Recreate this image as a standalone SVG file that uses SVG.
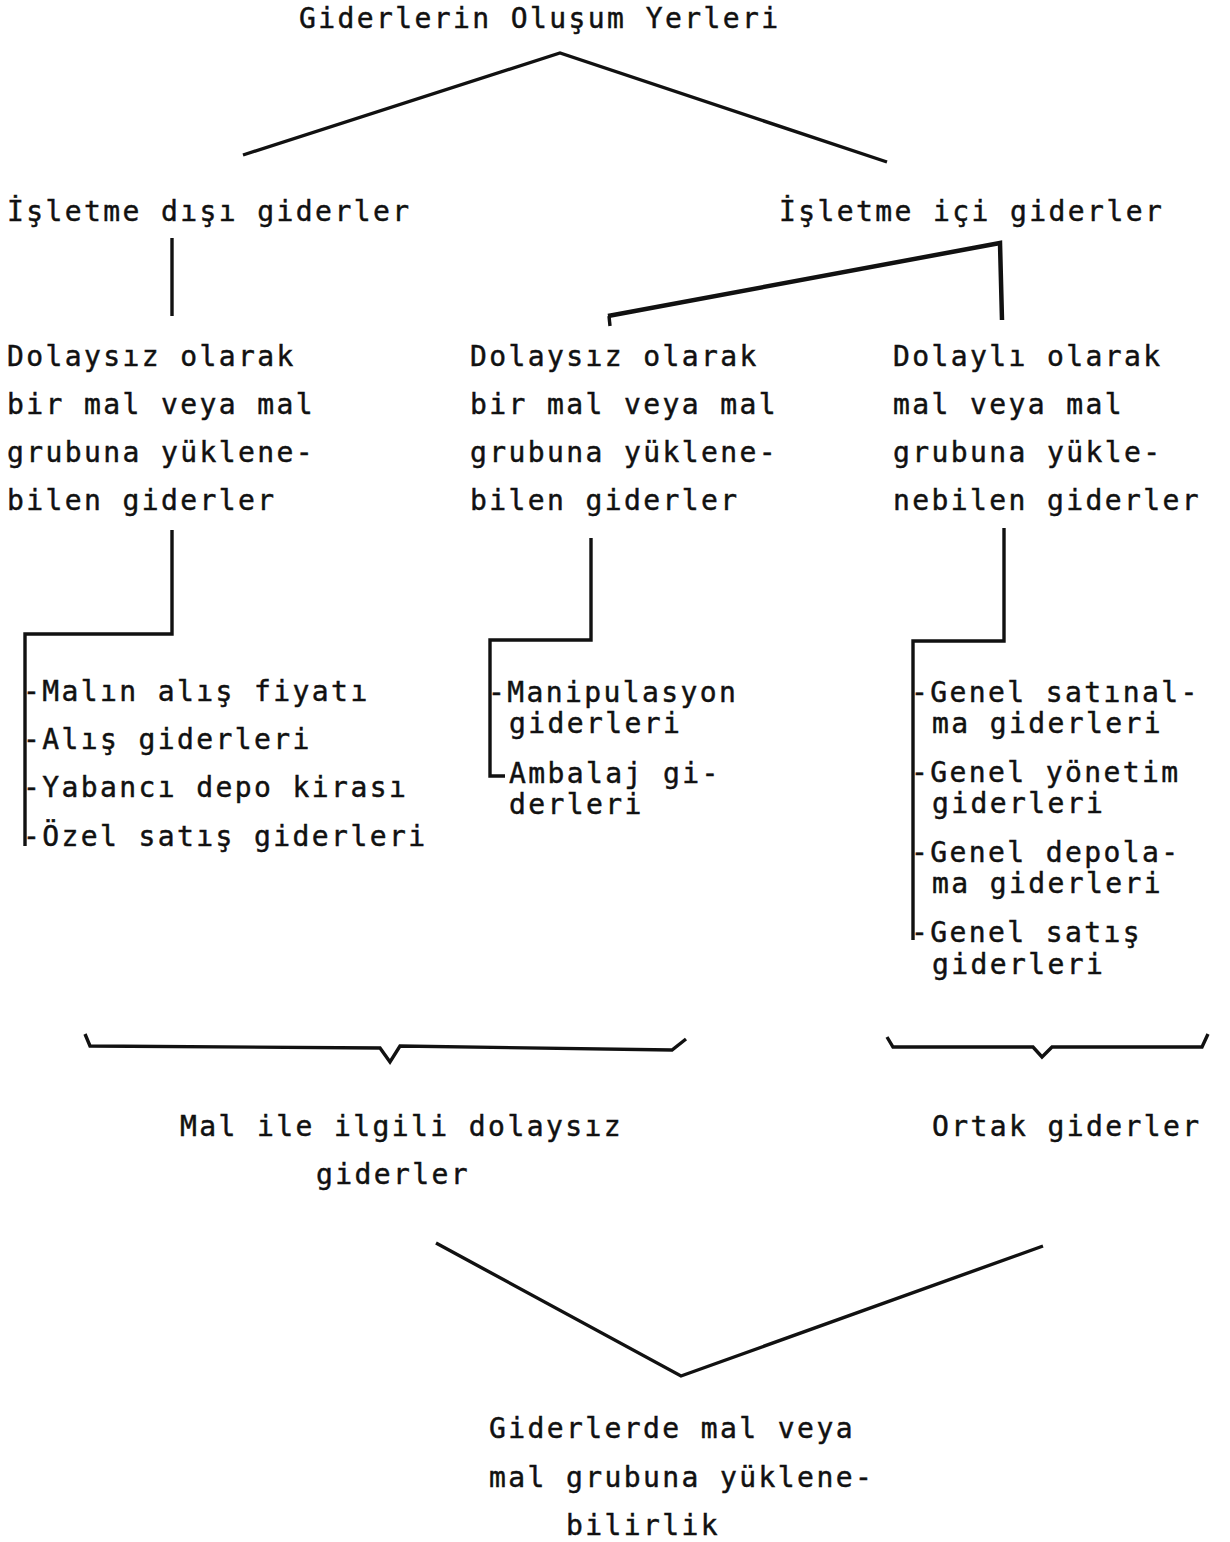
<svg xmlns="http://www.w3.org/2000/svg" width="1230" height="1542" viewBox="0 0 1230 1542">
  <style>
    .t { font-family: "DejaVu Sans Mono", "Liberation Mono", monospace; font-size: 28px; letter-spacing: 2.4px; fill: #111; stroke: #111; stroke-width: 0.45px; }
    .ln { fill: none; stroke: #111; stroke-width: 3.4; stroke-linejoin: miter; stroke-linecap: butt; }
    .hv { stroke-width: 4.5; }
  </style>
  <rect width="1230" height="1542" fill="#fff"/>

  <!-- connectors -->
  <g id="connectors">
    <polyline class="ln" points="243,155 560,53 887,162"/>
    <line class="ln" x1="172" y1="238" x2="172" y2="316"/>
    <polyline class="ln hv" points="608,316 1000,243 1002,320"/>
    <line class="ln" x1="609" y1="316" x2="610" y2="326" stroke-width="2"/>

    <polyline class="ln" points="172,530 172,634 25,634 25,846"/>
    <polyline class="ln" points="591,538 591,640 490,640 490,776 505,776"/>
    <polyline class="ln" points="1004,528 1004,641 913,641 913,940"/>

    <polyline class="ln" points="85,1034 90,1046 380,1048 390,1062 400,1046 672,1050 686,1039"/>
    <polyline class="ln" points="887,1037 893,1047 1033,1047 1042,1057 1052,1047 1202,1047 1208,1034"/>

    <polyline class="ln" points="436,1243 681,1376 1043,1246"/>
  </g>

  <g id="root">
    <text class="t" x="299" y="28">Giderlerin Oluşum Yerleri</text>
  </g>

  <g id="disi">
    <text class="t" x="7" y="221">İşletme dışı giderler</text>
  </g>

  <g id="ici">
    <text class="t" x="779" y="221">İşletme içi giderler</text>
  </g>

  <g id="col-left">
    <text class="t" x="7" y="366">Dolaysız olarak</text>
    <text class="t" x="7" y="414">bir mal veya mal</text>
    <text class="t" x="7" y="462">grubuna yüklene-</text>
    <text class="t" x="7" y="510">bilen giderler</text>
  </g>

  <g id="col-mid">
    <text class="t" x="470" y="366">Dolaysız olarak</text>
    <text class="t" x="470" y="414">bir mal veya mal</text>
    <text class="t" x="470" y="462">grubuna yüklene-</text>
    <text class="t" x="470" y="510">bilen giderler</text>
  </g>

  <g id="col-right">
    <text class="t" x="893" y="366">Dolaylı olarak</text>
    <text class="t" x="893" y="414">mal veya mal</text>
    <text class="t" x="893" y="462">grubuna yükle-</text>
    <text class="t" x="893" y="510">nebilen giderler</text>
  </g>

  <g id="list-left">
    <text class="t" x="23" y="701">-Malın alış fiyatı</text>
    <text class="t" x="23" y="749">-Alış giderleri</text>
    <text class="t" x="23" y="797">-Yabancı depo kirası</text>
    <text class="t" x="23" y="846">-Özel satış giderleri</text>
  </g>

  <g id="list-mid">
    <text class="t" x="488" y="702">-Manipulasyon</text>
    <text class="t" x="509" y="733">giderleri</text>
    <text class="t" x="509" y="783">Ambalaj gi-</text>
    <text class="t" x="509" y="814">derleri</text>
  </g>

  <g id="list-right">
    <text class="t" x="911" y="702">-Genel satınal-</text>
    <text class="t" x="932" y="733">ma giderleri</text>
    <text class="t" x="911" y="782">-Genel yönetim</text>
    <text class="t" x="932" y="813">giderleri</text>
    <text class="t" x="911" y="862">-Genel depola-</text>
    <text class="t" x="932" y="893">ma giderleri</text>
    <text class="t" x="911" y="942">-Genel satış</text>
    <text class="t" x="932" y="974">giderleri</text>
  </g>

  <g id="direct">
    <text class="t" x="180" y="1136">Mal ile ilgili dolaysız</text>
    <text class="t" x="316" y="1184">giderler</text>
  </g>

  <g id="common">
    <text class="t" x="932" y="1136">Ortak giderler</text>
  </g>

  <g id="result">
    <text class="t" x="489" y="1438">Giderlerde mal veya</text>
    <text class="t" x="489" y="1487">mal grubuna yüklene-</text>
    <text class="t" x="566" y="1535">bilirlik</text>
  </g>
</svg>
